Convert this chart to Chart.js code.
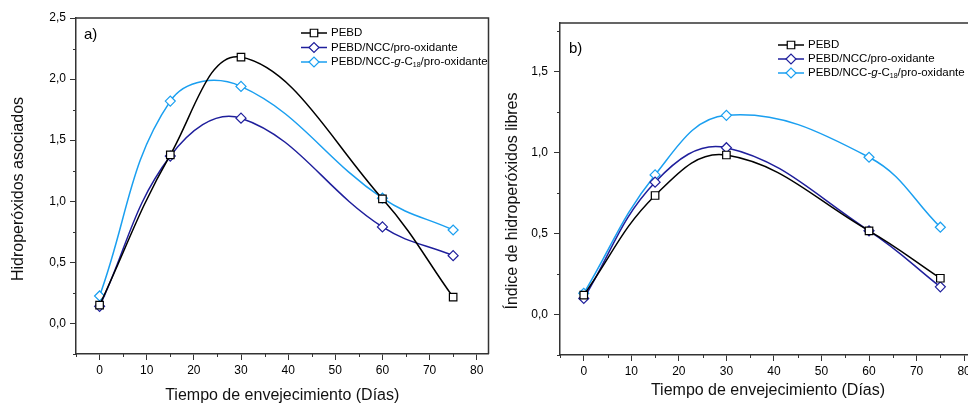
<!DOCTYPE html>
<html lang="es">
<head>
<meta charset="utf-8">
<title>Hidroperóxidos asociados y libres</title>
<script src="https://cdn.jsdelivr.net/npm/chart.js@4.4.1/dist/chart.umd.min.js"></script>
<style>
  html, body { margin: 0; padding: 0; background: #fff; overflow: hidden; }
  body { width: 968px; height: 404px; position: relative; }
  #panelA { position: absolute; left: 0; top: 0; }
  #panelB { position: absolute; left: 495px; top: 0; }
</style>
</head>
<body>
<canvas id="panelA" width="495" height="404"></canvas>
<canvas id="panelB" width="500" height="404"></canvas>
<script>
// Datos
const dias = [0, 15, 30, 60, 75];
const seriesLabels = ['PEBD', 'PEBD/NCC/pro-oxidante', 'PEBD/NCC-<i>g</i>-C<sub>18</sub>/pro-oxidante'];

// a) Hidroperóxidos asociados
const asociadosPEBD = [0.15, 1.38, 2.18, 1.02, 0.215];
const asociadosNCC = [0.14, 1.37, 1.68, 0.79, 0.555];
const asociadosC18 = [0.225, 1.82, 1.94, 1.025, 0.765];

// b) Índice de hidroperóxidos libres
const libresPEBD = [0.12, 0.735, 0.985, 0.517, 0.224];
const libresNCC = [0.099, 0.817, 1.03, 0.517, 0.171];
const libresC18 = [0.131, 0.862, 1.23, 0.971, 0.539];

// Marcas de los ejes
const xTicks = [0, 10, 20, 30, 40, 50, 60, 70, 80];
const yTicksA = [0, 0.5, 1, 1.5, 2, 2.5];
const yTicksB = [0, 0.5, 1, 1.5];

// Estilo de las series
const colores = ['#000000', '#1f1f9c', '#1a9ff0'];
const marcadores = ['rect', 'rectRot', 'rectRot'];
const radios = [5.3, 5, 5];

const FUENTE = '"Liberation Sans", Arial, sans-serif';
const EJE = '#333';

// Marcas menores (a mitad de paso) calculadas desde las marcas principales
function minores(scale) {
    const t = scale.ticks.map(k => k.value);
    const paso = t[1] - t[0];
    const out = [];
    for (let v = t[0] - paso / 2; v <= scale.max + 1e-9; v += paso) {
        if (v >= scale.min - 1e-9) out.push(v);
    }
    return out;
}

function dibujarMarcador(ctx, estilo, r, x, y, color) {
    ctx.save();
    ctx.fillStyle = '#fff';
    ctx.strokeStyle = color;
    ctx.lineWidth = 1.2;
    ctx.beginPath();
    if (estilo === 'rect') {
        const s = Math.SQRT1_2 * r;
        ctx.rect(x - s, y - s, 2 * s, 2 * s);
    } else {
        ctx.moveTo(x - r, y);
        ctx.lineTo(x, y - r);
        ctx.lineTo(x + r, y);
        ctx.lineTo(x, y + r);
        ctx.closePath();
    }
    ctx.fill();
    ctx.stroke();
    ctx.restore();
}

// Texto con cursiva y subíndice
function textoRico(ctx, html, x, y) {
    const re = /<(i|sub)>(.*?)<\/\1>|([^<]+)/g;
    let m;
    ctx.fillStyle = '#000';
    ctx.textBaseline = 'middle';
    ctx.textAlign = 'left';
    while ((m = re.exec(html))) {
        const tag = m[1];
        const txt = m[2] || m[3];
        if (tag === 'i') ctx.font = 'italic 11.5px ' + FUENTE;
        else if (tag === 'sub') ctx.font = '7px ' + FUENTE;
        else ctx.font = '11.5px ' + FUENTE;
        ctx.fillText(txt, x, tag === 'sub' ? y + 3.5 : y);
        x += ctx.measureText(txt).width;
    }
}

// Marco superior/derecho y marcas menores
const marcoPlugin = {
    id: 'marco',
    afterDraw(chart) {
        const { ctx, chartArea: a, scales } = chart;
        ctx.save();
        ctx.strokeStyle = EJE;
        ctx.lineWidth = 1.5;
        ctx.beginPath();
        ctx.moveTo(a.left, a.top);
        ctx.lineTo(a.right, a.top);
        ctx.lineTo(a.right, a.bottom);
        ctx.stroke();
        ctx.lineWidth = 1;
        ctx.beginPath();
        minores(scales.x).forEach(v => {
            const px = Math.round(scales.x.getPixelForValue(v)) + 0.5;
            ctx.moveTo(px, a.bottom);
            ctx.lineTo(px, a.bottom + 3);
        });
        minores(scales.y).forEach(v => {
            const py = Math.round(scales.y.getPixelForValue(v)) + 0.5;
            ctx.moveTo(a.left, py);
            ctx.lineTo(a.left - 3, py);
        });
        ctx.stroke();
        ctx.restore();
    }
};

// Leyenda, etiqueta del panel y título del eje Y
const leyendaPlugin = {
    id: 'leyenda',
    afterDraw(chart, args, opts) {
        const ctx = chart.ctx;
        ctx.save();
        chart.data.datasets.forEach((ds, i) => {
            const y = opts.y + i * opts.gap;
            ctx.strokeStyle = ds.borderColor;
            ctx.lineWidth = 1.5;
            ctx.beginPath();
            ctx.moveTo(opts.x, y);
            ctx.lineTo(opts.x + 26, y);
            ctx.stroke();
            dibujarMarcador(ctx, ds.pointStyle, ds.pointRadius, opts.x + 13, y, ds.borderColor);
            textoRico(ctx, ds.label, opts.x + 30, y);
        });
        ctx.font = '15px ' + FUENTE;
        ctx.fillStyle = '#000';
        ctx.textBaseline = 'middle';
        ctx.textAlign = 'left';
        ctx.fillText(opts.panel, opts.panelX, opts.panelY);

        ctx.translate(opts.tituloX, opts.tituloY);
        ctx.rotate(-Math.PI / 2);
        ctx.font = '16px ' + FUENTE;
        ctx.fillStyle = '#111';
        ctx.textAlign = 'center';
        ctx.fillText(opts.titulo, 0, 0);
        ctx.restore();
    }
};

function crearPanel(id, valores, yTicks, yMax, tituloY, cfg) {
    const datasets = valores.map((serie, i) => ({
        label: seriesLabels[i],
        data: dias.map((d, k) => ({ x: d, y: serie[k] })),
        borderColor: colores[i],
        borderWidth: 1.5,
        pointStyle: marcadores[i],
        pointRadius: radios[i],
        pointBorderWidth: 1.2,
        pointBorderColor: colores[i],
        pointBackgroundColor: '#fff',
        tension: 0.4,
        fill: false
    }));

    return new Chart(document.getElementById(id), {
        type: 'line',
        data: { datasets },
        options: {
            responsive: false,
            animation: false,
            events: [],
            layout: { padding: cfg.padding },
            plugins: {
                legend: { display: false },
                tooltip: { enabled: false },
                leyenda: Object.assign({ titulo: tituloY }, cfg.leyenda)
            },
            scales: {
                x: {
                    type: 'linear',
                    min: -5,
                    max: 82.5,
                    afterBuildTicks: s => { s.ticks = xTicks.map(v => ({ value: v })); },
                    afterFit: s => { s.height = cfg.altoX; },
                    ticks: {
                        autoSkip: false,
                        maxRotation: 0,
                        padding: 3,
                        color: '#000',
                        font: { family: FUENTE, size: 12 },
                        callback: v => String(v)
                    },
                    grid: { drawOnChartArea: false, tickLength: 6, tickColor: EJE, tickWidth: 1 },
                    border: { color: EJE, width: 1.5 },
                    title: {
                        display: true,
                        text: 'Tiempo de envejecimiento (Días)',
                        color: '#111',
                        font: { family: FUENTE, size: 16, lineHeight: 1 },
                        padding: { top: 0, bottom: cfg.padTituloX }
                    }
                },
                y: {
                    type: 'linear',
                    min: -0.25,
                    max: yMax,
                    afterBuildTicks: s => { s.ticks = yTicks.map(v => ({ value: v })); },
                    afterFit: s => { s.width = cfg.anchoY; },
                    ticks: {
                        padding: cfg.padTicksY,
                        color: '#000',
                        font: { family: FUENTE, size: 12 },
                        callback: v => v.toFixed(1).replace('.', ',')
                    },
                    grid: { drawOnChartArea: false, tickLength: 6, tickColor: EJE, tickWidth: 1 },
                    border: { color: EJE, width: 1.5 },
                    title: { display: false }
                }
            }
        },
        plugins: [marcoPlugin, leyendaPlugin]
    });
}

crearPanel('panelA', [asociadosPEBD, asociadosNCC, asociadosC18], yTicksA, 2.5,
    'Hidroperóxidos asociados', {
        padding: { left: 0, top: 18, right: 6, bottom: 0 },
        anchoY: 76, altoX: 50, padTicksY: 4, padTituloX: 0,
        leyenda: { x: 301, y: 33, gap: 14.5, panel: 'a)', panelX: 84, panelY: 35, tituloX: 19, tituloY: 189 }
    });

crearPanel('panelB', [libresPEBD, libresNCC, libresC18], yTicksB, 1.8,
    'Índice de hidroperóxidos libres', {
        padding: { left: 0, top: 23, right: 19, bottom: 0 },
        anchoY: 65, altoX: 49, padTicksY: 6, padTituloX: 5,
        leyenda: { x: 283, y: 45, gap: 14, panel: 'b)', panelX: 74, panelY: 49, tituloX: 18, tituloY: 201 }
    });
</script>
</body>
</html>
